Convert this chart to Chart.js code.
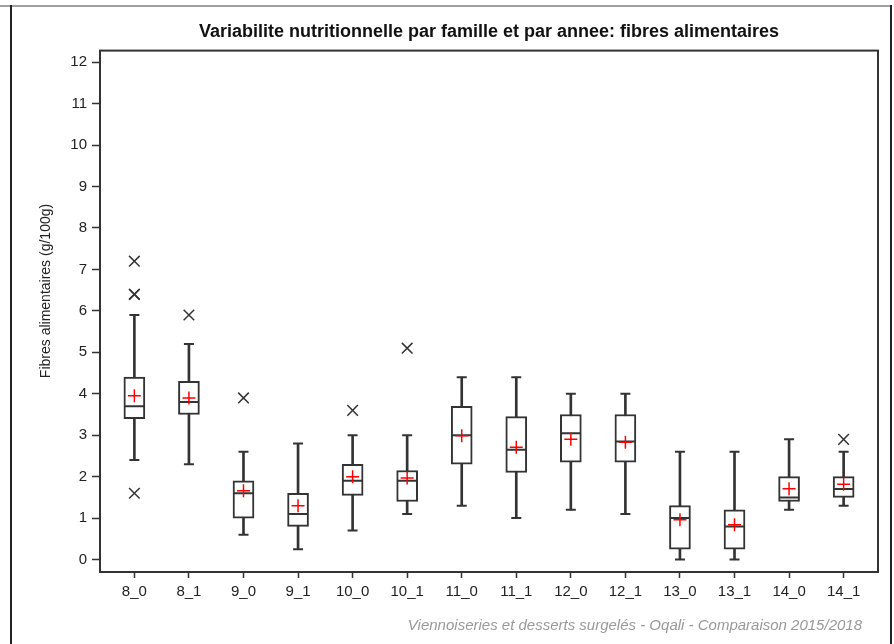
<!DOCTYPE html>
<html>
<head>
<meta charset="utf-8">
<script src="https://cdn.jsdelivr.net/npm/chart.js@4"></script>
<style>
    html, body { margin: 0; padding: 0; background: #fff; }
    #wrap { position: relative; width: 894px; height: 644px; overflow: hidden; }
    #wrap canvas { position: absolute; left: 0; top: 0; }
    #topline { position: absolute; left: 0; top: 5px; width: 892px; height: 2px; background: #a0a0a0; }
    #frame { position: absolute; left: 10px; top: 5px; width: 878px; height: 700px; border-left: 2px solid #222; border-right: 2px solid #222; }
    #ytitle { position: absolute; left: 45px; top: 291px; transform: translate(-50%, -50%) rotate(-90deg); font: 14px "Liberation Sans", Arial, sans-serif; color: #222; white-space: nowrap; }
    #note { position: absolute; right: 32px; top: 616px; font: italic 15px "Liberation Sans", Arial, sans-serif; color: #999; white-space: nowrap; }
</style>
</head>
<body>
<div id="wrap">
    <canvas id="chart" width="894" height="644"></canvas>
    <div id="topline"></div>
    <div id="frame"></div>
    <div id="ytitle">Fibres alimentaires (g/100g)</div>
    <div id="note">Viennoiseries et desserts surgelés - Oqali - Comparaison 2015/2018</div>
</div>
<script>
// values
const categories = ['8_0', '8_1', '9_0', '9_1', '10_0', '10_1', '11_0', '11_1', '12_0', '12_1', '13_0', '13_1', '14_0', '14_1'];
const whiskerLow = [2.4, 2.3, 0.6, 0.25, 0.7, 1.1, 1.3, 1.0, 1.2, 1.1, 0, 0, 1.2, 1.3];
const q1 = [3.4, 3.5, 1.0, 0.8, 1.55, 1.4, 2.3, 2.1, 2.35, 2.35, 0.25, 0.25, 1.4, 1.5];
const median = [3.7, 3.8, 1.6, 1.1, 1.9, 1.9, 3.0, 2.65, 3.05, 2.85, 1.0, 0.8, 1.5, 1.7];
const q3 = [4.4, 4.3, 1.9, 1.6, 2.3, 2.15, 3.7, 3.45, 3.5, 3.5, 1.3, 1.2, 2.0, 2.0];
const whiskerHigh = [5.9, 5.2, 2.6, 2.8, 3.0, 3.0, 4.4, 4.4, 4.0, 4.0, 2.6, 2.6, 2.9, 2.6];
const means = [3.95, 3.9, 1.66, 1.3, 2.0, 1.97, 2.99, 2.71, 2.9, 2.83, 0.96, 0.84, 1.71, 1.82];
const outlierCategory = ['8_0', '8_0', '8_0', '8_0', '8_1', '9_0', '10_0', '10_1', '14_1'];
const outlierValue = [7.2, 6.4, 6.4, 1.6, 5.9, 3.9, 3.6, 5.1, 2.9];

const family = '"Liberation Sans", Arial, sans-serif';
const ink = '#333';

const pts = arr => arr.map((v, i) => ({ x: i, y: v }));
const ranges = (lo, hi) => lo.map((v, i) => ({ x: i, y: [v, hi[i]] }));
const outliers = outlierCategory.map((c, i) => ({ x: categories.indexOf(c), y: outlierValue[i] }));

// box frame around the plot area
const plotFrame = {
    id: 'plotFrame',
    afterDraw(chart) {
        const { ctx, chartArea: a } = chart;
        ctx.save();
        ctx.strokeStyle = ink;
        ctx.lineWidth = 2;
        ctx.strokeRect(a.left, a.top, a.right - a.left, a.bottom - a.top);
        ctx.restore();
    }
};

new Chart(document.getElementById('chart'), {
    type: 'bar',
    data: {
        datasets: [
            {   // whiskers
                type: 'bar',
                data: ranges(whiskerLow, whiskerHigh),
                backgroundColor: ink,
                barThickness: 2,
                grouped: false,
                order: 5,
            },
            {   // boxes
                type: 'bar',
                data: ranges(q1, q3),
                backgroundColor: '#fff',
                borderColor: ink,
                borderWidth: 2,
                borderSkipped: false,
                barThickness: 21,
                grouped: false,
                order: 4,
            },
            {   // whisker caps
                type: 'line',
                data: pts(whiskerLow).concat(pts(whiskerHigh)),
                showLine: false,
                pointStyle: 'line',
                pointRadius: 5,
                pointBorderWidth: 2,
                pointBorderColor: ink,
                borderColor: ink,
                order: 3,
            },
            {   // medians
                type: 'line',
                data: pts(median),
                showLine: false,
                pointStyle: 'line',
                pointRadius: 10,
                pointBorderWidth: 2,
                pointBorderColor: ink,
                borderColor: ink,
                order: 3,
            },
            {   // outliers
                type: 'line',
                data: outliers,
                showLine: false,
                pointStyle: 'crossRot',
                pointRadius: 7.5,
                pointBorderWidth: 1.5,
                pointBorderColor: ink,
                borderColor: ink,
                order: 2,
            },
            {   // means
                type: 'line',
                data: pts(means),
                showLine: false,
                pointStyle: 'cross',
                pointRadius: 6.5,
                pointBorderWidth: 1.5,
                pointBorderColor: '#ff0000',
                borderColor: '#ff0000',
                order: 1,
            },
        ],
    },
    options: {
        responsive: false,
        animation: false,
        events: [],
        layout: { padding: { left: 0, right: 16, top: 0, bottom: 0 } },
        plugins: {
            legend: { display: false },
            tooltip: { enabled: false },
            title: {
                display: true,
                fullSize: false,
                text: 'Variabilite nutritionnelle par famille et par annee: fibres alimentaires',
                color: '#111',
                font: { family, size: 18, weight: 'bold' },
                padding: { top: 21, bottom: 8 },
            },
        },
        scales: {
            x: {
                type: 'linear',
                min: -0.63,
                max: 13.63,
                offset: false,
                afterFit: s => { s.height = 72; },
                border: { display: true, color: ink, width: 2 },
                grid: { drawOnChartArea: false, drawTicks: true, tickLength: 6, tickWidth: 1.5, tickColor: ink, offset: false },
                ticks: {
                    stepSize: 1,
                    includeBounds: false,
                    autoSkip: false,
                    maxRotation: 0,
                    padding: 5,
                    color: '#222',
                    font: { family, size: 15 },
                    callback: v => categories[v] ?? '',
                },
            },
            y: {
                min: -0.3,
                max: 12.28,
                afterFit: s => { s.width = 100; },
                border: { display: true, color: ink, width: 2 },
                grid: { drawOnChartArea: false, drawTicks: true, tickLength: 8, tickWidth: 1.5, tickColor: ink },
                ticks: {
                    stepSize: 1,
                    includeBounds: false,
                    padding: 5,
                    color: '#222',
                    font: { family, size: 15 },
                },
            },
        },
    },
    plugins: [plotFrame],
});
</script>
</body>
</html>
